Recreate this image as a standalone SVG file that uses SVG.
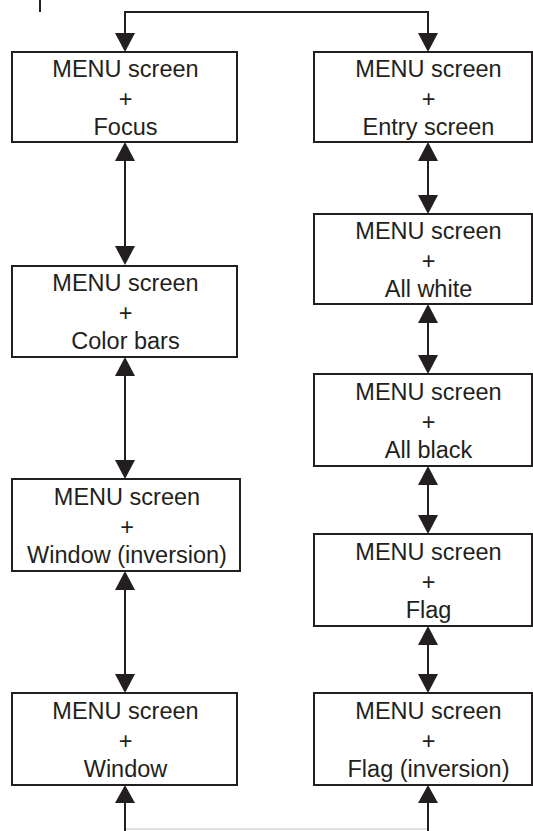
<svg xmlns="http://www.w3.org/2000/svg" width="533" height="831" viewBox="0 0 533 831">
<defs>
<style>
.box rect{fill:#fff;stroke:#231f20;stroke-width:2}
.box text{font-family:"Liberation Sans",Arial,sans-serif;font-size:23.5px;fill:#231f20;text-anchor:middle}
.ln{stroke:#231f20;stroke-width:2;fill:none}
.ah{fill:#231f20}
</style>
</defs>
<rect width="533" height="831" fill="#fff"/>
<g id="connectors">
<line class="ln" x1="40" y1="0" x2="40" y2="12"/>
<path class="ln" d="M125,45 V12 H428 V45"/>
<path class="ah" d="M115,33 L135,33 L125,52 Z"/>
<path class="ah" d="M418,33 L438,33 L428,52 Z"/>
<path d="M125,829 H428" stroke="#d6d6d6" stroke-width="1.5" fill="none"/>
<path class="ln" d="M125,795 V831"/>
<path class="ln" d="M428,795 V831"/>
<path class="ah" d="M115,803 L135,803 L125,785 Z"/>
<path class="ah" d="M418,803 L438,803 L428,785 Z"/>
<line class="ln" x1="125" y1="150" x2="125" y2="258"/>
<path class="ah" d="M115,161 L135,161 L125,142 Z"/><path class="ah" d="M115,246 L135,246 L125,265 Z"/>
<line class="ln" x1="125" y1="364" x2="125" y2="472"/>
<path class="ah" d="M115,376 L135,376 L125,357 Z"/><path class="ah" d="M115,460 L135,460 L125,479 Z"/>
<line class="ln" x1="125" y1="578" x2="125" y2="686"/>
<path class="ah" d="M115,590 L135,590 L125,571 Z"/><path class="ah" d="M115,674 L135,674 L125,693 Z"/>
<line class="ln" x1="428" y1="150" x2="428" y2="207"/>
<path class="ah" d="M418,161 L438,161 L428,142 Z"/><path class="ah" d="M418,195 L438,195 L428,214 Z"/>
<line class="ln" x1="428" y1="311" x2="428" y2="367"/>
<path class="ah" d="M418,323 L438,323 L428,304 Z"/><path class="ah" d="M418,355 L438,355 L428,374 Z"/>
<line class="ln" x1="428" y1="473" x2="428" y2="527"/>
<path class="ah" d="M418,485 L438,485 L428,466 Z"/><path class="ah" d="M418,515 L438,515 L428,534 Z"/>
<line class="ln" x1="428" y1="633" x2="428" y2="686"/>
<path class="ah" d="M418,645 L438,645 L428,626 Z"/><path class="ah" d="M418,674 L438,674 L428,693 Z"/>
</g>
<g id="focus" class="box"><rect x="12" y="52" width="225" height="90"/><text x="125.5" y="77">MENU screen</text><text x="125.5" y="107">+</text><text x="125.5" y="135">Focus</text></g>
<g id="colorbars" class="box"><rect x="12" y="266" width="225" height="91"/><text x="125.5" y="291">MENU screen</text><text x="125.5" y="321">+</text><text x="125.5" y="349">Color bars</text></g>
<g id="windowinv" class="box"><rect x="12" y="479" width="228" height="92"/><text x="127" y="505">MENU screen</text><text x="127" y="535">+</text><text x="127" y="563">Window (inversion)</text></g>
<g id="window" class="box"><rect x="12" y="693" width="225" height="92"/><text x="125.5" y="719">MENU screen</text><text x="125.5" y="749">+</text><text x="125.5" y="777">Window</text></g>
<g id="entry" class="box"><rect x="314" y="52" width="218" height="90"/><text x="428.5" y="77">MENU screen</text><text x="428.5" y="107">+</text><text x="428.5" y="135">Entry screen</text></g>
<g id="allwhite" class="box"><rect x="314" y="214" width="218" height="90"/><text x="428.5" y="239">MENU screen</text><text x="428.5" y="269">+</text><text x="428.5" y="297">All white</text></g>
<g id="allblack" class="box"><rect x="314" y="374" width="218" height="92"/><text x="428.5" y="400">MENU screen</text><text x="428.5" y="430">+</text><text x="428.5" y="458">All black</text></g>
<g id="flag" class="box"><rect x="314" y="534" width="218" height="92"/><text x="428.5" y="560">MENU screen</text><text x="428.5" y="590">+</text><text x="428.5" y="618">Flag</text></g>
<g id="flaginv" class="box"><rect x="314" y="693" width="218" height="92"/><text x="428.5" y="719">MENU screen</text><text x="428.5" y="749">+</text><text x="428.5" y="777">Flag (inversion)</text></g>
</svg>
